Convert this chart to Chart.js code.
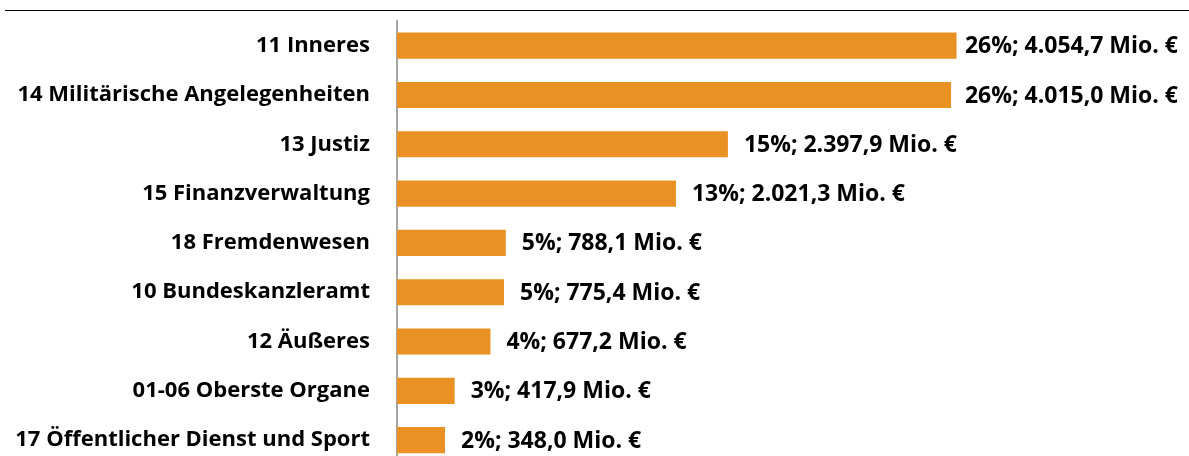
<!DOCTYPE html>
<html>
<head>
<meta charset="utf-8">
<script src="https://cdn.jsdelivr.net/npm/chart.js@4"></script>
<style>
  html, body { margin: 0; padding: 0; background: #fff; overflow: hidden; }
</style>
</head>
<body>
<canvas id="budgetChart" width="1189" height="478"></canvas>
<script>
  // Untergliederungen und Auszahlungen (Mio. €)
  const categories = [
    "11 Inneres",
    "14 Militärische Angelegenheiten",
    "13 Justiz",
    "15 Finanzverwaltung",
    "18 Fremdenwesen",
    "10 Bundeskanzleramt",
    "12 Äußeres",
    "01-06 Oberste Organe",
    "17 Öffentlicher Dienst und Sport"
  ];
  const values = [4054.7, 4015.0, 2397.9, 2021.3, 788.1, 775.4, 677.2, 417.9, 348.0];
  const shares = [26, 26, 15, 13, 5, 5, 4, 3, 2];

  const FONT = "'Open Sans', sans-serif";

  function formatMio(v) {
    return v.toLocaleString("de-DE", { minimumFractionDigits: 1, maximumFractionDigits: 1 });
  }

  // top rule above the chart
  const topRule = {
    id: "topRule",
    beforeDraw(chart) {
      const ctx = chart.ctx;
      ctx.save();
      ctx.strokeStyle = "#000";
      ctx.lineWidth = 1;
      ctx.beginPath();
      ctx.moveTo(5, 10.5);
      ctx.lineTo(chart.width, 10.5);
      ctx.stroke();
      ctx.restore();
    }
  };

  // value labels to the right of each bar
  const valueLabels = {
    id: "valueLabels",
    afterDatasetsDraw(chart) {
      const ctx = chart.ctx;
      const meta = chart.getDatasetMeta(0);
      ctx.save();
      ctx.font = "bold 23px " + FONT;
      ctx.fillStyle = "#000";
      ctx.textBaseline = "middle";
      meta.data.forEach((bar, i) => {
        const text = `${shares[i]}%; ${formatMio(values[i])} Mio. €`;
        const w = ctx.measureText(text).width;
        const x = Math.min(bar.x + 16, 1178 - w);
        ctx.fillText(text, x, bar.y + 1);
      });
      ctx.restore();
    }
  };

  const ctx = document.getElementById("budgetChart").getContext("2d");
  const budgetChart = new Chart(ctx, {
    type: "bar",
    data: {
      labels: categories,
      datasets: [
        {
          data: values,
          backgroundColor: "#EA9124",
          borderWidth: 0,
          categoryPercentage: 1,
          barPercentage: 0.53
        }
      ]
    },
    plugins: [topRule, valueLabels],
    options: {
      indexAxis: "y",
      responsive: false,
      animation: false,
      layout: { autoPadding: false, padding: { top: 21, right: 102, bottom: 0, left: 0 } },
      plugins: {
        legend: { display: false },
        tooltip: { enabled: false }
      },
      scales: {
        x: {
          display: false,
          min: 0,
          max: 5000
        },
        y: {
          afterFit(scale) { scale.width = 397; },
          grid: { display: true, drawOnChartArea: false, drawTicks: true, tickLength: 27, color: "rgba(0,0,0,0)" },
          border: { display: true, color: "#A6A6A6", width: 2 },
          ticks: {
            padding: 0,
            color: "#000",
            font: { family: FONT, size: 22, weight: "bold" }
          }
        }
      }
    }
  });
</script>
</body>
</html>
